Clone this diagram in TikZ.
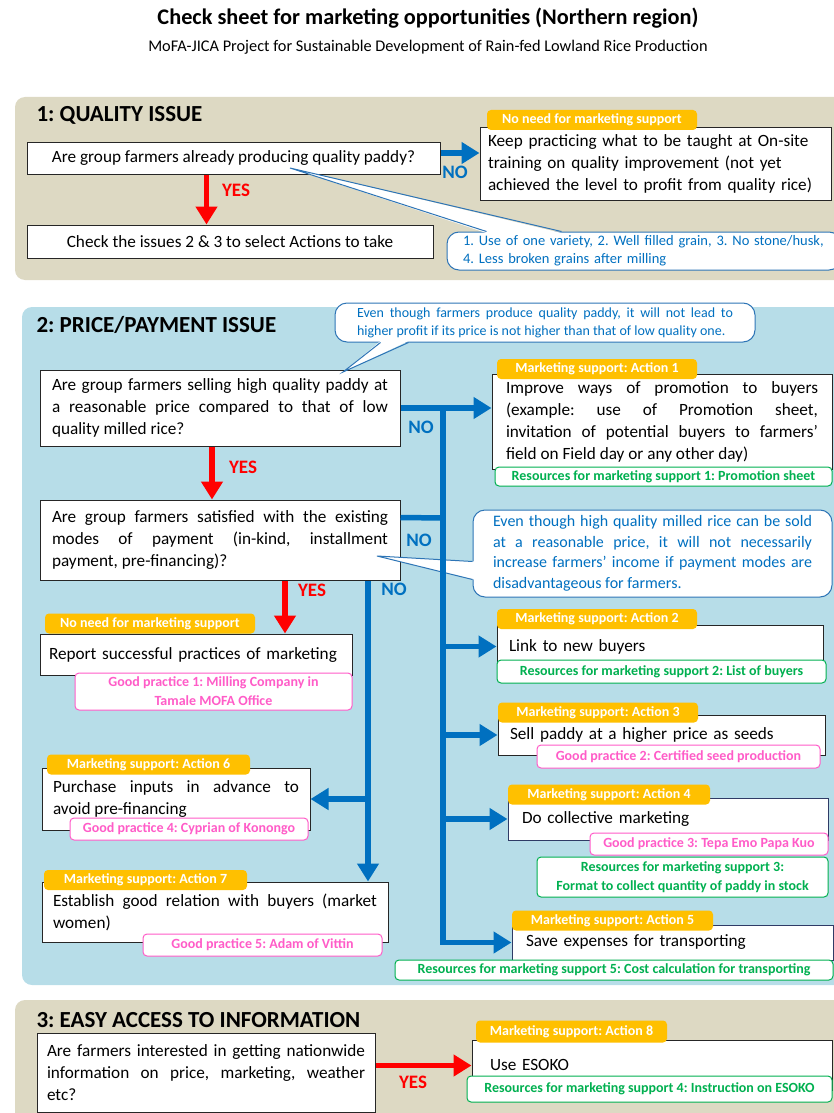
\documentclass[tikz,border=0pt]{standalone}
\usepackage{fontspec}
\setmainfont{Carlito}
\usepackage{xcolor}
\definecolor{tanbg}{HTML}{DDD9C3}
\definecolor{aquabg}{HTML}{B7DDE8}
\definecolor{flowblue}{HTML}{0070C0}
\definecolor{flowred}{HTML}{FF0000}
\definecolor{tagyellow}{HTML}{FFC000}
\definecolor{resgreen}{HTML}{00B050}
\definecolor{gppink}{HTML}{FF5CC8}
\definecolor{callblue}{HTML}{2E75B6}
\definecolor{boxnavy}{HTML}{2F3B66}
\usepackage{tikz}
\usetikzlibrary{arrows.meta}
\frenchspacing
\tikzset{
  qbox/.style={rectangle, draw=black!85, line width=1pt, fill=white,
               inner xsep=12pt, inner ysep=3pt, align=justify,
               font=\fontsize{17.2}{22}\selectfont},
  tagbox/.style={rectangle, rounded corners=4pt, fill=tagyellow, text=white,
               minimum height=20pt, inner sep=2pt,
               font=\fontsize{14}{16}\selectfont\bfseries},
  resbox/.style={rectangle, rounded corners=4pt, draw=resgreen, line width=1pt,
               fill=white, text=resgreen, inner sep=2pt, align=center,
               font=\fontsize{14}{19}\selectfont\bfseries},
  gpbox/.style={rectangle, rounded corners=4pt, draw=gppink, line width=1pt,
               fill=white, text=gppink, inner sep=2pt, align=center,
               font=\fontsize{14}{19}\selectfont\bfseries},
  callbox/.style={rectangle, rounded corners=12pt, draw=callblue, line width=1pt,
               fill=white, text=flowblue, inner xsep=20pt, inner ysep=2pt,
               align=justify},
  calltail/.style={draw=callblue, line width=1pt, line join=miter},
  barr/.style={-{Triangle[length=18pt,width=21pt]}, line width=5.5pt, draw=flowblue},
  bline/.style={line width=5.5pt, draw=flowblue},
  rarr/.style={-{Triangle[length=18pt,width=21pt]}, line width=5.5pt, draw=flowred},
  nolab/.style={font=\fontsize{19}{20}\selectfont\bfseries, text=flowblue},
  yeslab/.style={font=\fontsize{19}{20}\selectfont\bfseries, text=flowred},
  headlab/.style={anchor=west, font=\fontsize{23}{24}\selectfont\bfseries},
}

\begin{document}
\begin{tikzpicture}[x=1pt, y=-1pt]
  \useasboundingbox (0,0) rectangle (833,1113);

  % Backgrounds
  \fill[tanbg, rounded corners=10pt]  (15,97)   rectangle (845,280);
  \fill[aquabg, rounded corners=10pt] (22,307)  rectangle (845,985);
  \fill[tanbg, rounded corners=10pt]  (15,1000) rectangle (845,1125);

  % Title
  \node[font=\fontsize{22.3}{24}\selectfont\bfseries] (title) at (428,18)
    {Check sheet for marketing opportunities (Northern region)};
  \node[font=\fontsize{16.3}{18}\selectfont] (subtitle) at (428,47)
    {MoFA-JICA Project for Sustainable Development of Rain-fed Lowland Rice Production};

  % 1: Quality issue
  \node[headlab] (h1) at (33,115) {1: QUALITY ISSUE};
  \node[qbox, align=center, minimum width=413pt, minimum height=32pt] (q1) at (233.5,158)
    {Are group farmers already producing quality paddy?};
  \node[qbox, align=left, inner xsep=8pt, text width=335pt, minimum height=72pt] (keep) at (655.5,164)
    {Keep practicing what to be taught at On-site\\training on quality improvement (not yet\\achieved the level to profit from quality rice)};
  \node[qbox, align=center, minimum width=406pt, minimum height=33pt] (chk) at (230,241.5)
    {Check the issues 2 \& 3 to select Actions to take};
  \node[callbox, align=left, inner xsep=16pt, text width=362pt, minimum height=38pt,
        font=\fontsize{14.5}{18}\selectfont] (c1) at (644,251)
    {1. Use of one variety, 2. Well filled grain, 3. No stone/husk,\\4. Less broken grains after milling};
  \node[tagbox, minimum width=210pt] (tq1) at (592,120) {No need for marketing support};

  % 2: Price/payment issue
  \node[headlab] (h2) at (33,325) {2: PRICE/PAYMENT ISSUE};
  \node[callbox, inner xsep=22pt, text width=376pt, minimum height=39pt,
        font=\fontsize{14}{18}\selectfont] (c2) at (545,322.5)
    {Even though farmers produce quality paddy, it will not lead to\linebreak higher profit if its price is not higher than that of low quality one.};
  \node[qbox, text width=336pt, minimum height=76pt] (q2) at (220,408)
    {Are group farmers selling high quality paddy at\linebreak a reasonable price compared to that of low\linebreak quality milled rice?};
  \node[qbox, inner xsep=14pt, text width=312pt, minimum height=95pt] (act1) at (662,422)
    {Improve ways of promotion to buyers\linebreak (example: use of Promotion sheet,\linebreak invitation of potential buyers to farmers'\linebreak field on Field day or any other day)};
  \node[qbox, text width=336pt, minimum height=80pt] (q3) at (220,540)
    {Are group farmers satisfied with the existing\linebreak modes of payment (in-kind, installment\linebreak payment, pre-financing)?};
  \node[callbox, text width=319pt, minimum height=87pt,
        font=\fontsize{16}{20.5}\selectfont] (c3) at (652.5,553.5)
    {Even though high quality milled rice can be sold\linebreak at a reasonable price, it will not necessarily\linebreak increase farmers' income if payment modes are\linebreak disadvantageous for farmers.};

  % left column
  \node[qbox, align=left, inner xsep=9pt, text width=294pt, minimum height=41pt] (rep) at (196,654.5)
    {Report successful practices of marketing};
  \node[qbox, inner xsep=11pt, text width=246pt, minimum height=62pt] (act6) at (176,799)
    {Purchase inputs in advance to\linebreak avoid pre-financing};
  \node[qbox, inner xsep=11pt, text width=324pt, minimum height=60pt] (act7) at (215,912)
    {Establish good relation with buyers (market\linebreak women)};

  % right column
  \node[qbox, align=left, text width=302pt, minimum height=43pt] (act2) at (660,646.5)
    {Link to new buyers};
  \node[qbox, align=left, text width=303pt, minimum height=40pt] (act3) at (661.5,735)
    {Sell paddy at a higher price as seeds};
  \node[qbox, draw=boxnavy, align=left, inner xsep=14pt, text width=292pt, minimum height=42pt] (act4) at (668,819)
    {Do collective marketing};
  \node[qbox, draw=boxnavy, align=left, inner xsep=14pt, text width=293pt, minimum height=35pt] (act5) at (672.5,942.5)
    {Save expenses for transporting};

  % 3: Easy access to information
  \node[headlab] (h3) at (33,1020) {3: EASY ACCESS TO INFORMATION};
  \node[qbox, inner xsep=10pt, text width=318pt, minimum height=79pt] (q4) at (206,1072.5)
    {Are farmers interested in getting nationwide\linebreak information on price, marketing, weather\linebreak etc?};
  \node[qbox, align=left, inner xsep=18pt, text width=324pt, minimum height=50pt] (act8) at (652,1065)
    {Use ESOKO};

  % Callout tails
  \coordinate (p1) at (290,168);
  \coordinate (p2) at (343,372);
  \coordinate (p3) at (377,556);
  \fill[white] (p1) -- ([xshift=40pt,yshift=-1.5pt]c1.north west) -- ([xshift=115pt,yshift=-1.5pt]c1.north west) -- cycle;
  \draw[calltail] ([xshift=40pt]c1.north west) -- (p1) -- ([xshift=115pt]c1.north west);
  \fill[white] (p2) -- ([xshift=46pt,yshift=1.5pt]c2.south west) -- ([xshift=74pt,yshift=1.5pt]c2.south west) -- cycle;
  \draw[calltail] ([xshift=46pt]c2.south west) -- (p2) -- ([xshift=74pt]c2.south west);
  \fill[white] (p3) -- ([xshift=1.5pt,yshift=-52pt]c3.north west) -- ([xshift=1.5pt,yshift=-70pt]c3.north west) -- cycle;
  \draw[calltail] ([yshift=-52pt]c3.north west) -- (p3) -- ([yshift=-70pt]c3.north west);

  % NO branches
  \coordinate (j1) at (443,408);
  \coordinate (j2) at (443,518);
  \coordinate (k1) at (368,799);
  \draw[barr] ([yshift=5pt]q1.east) -- ([yshift=5pt]q1.east -| keep.west);
  \draw[barr] (q2.east) -- (act1.west |- q2.east);
  \draw[bline] ([yshift=-18pt]q3.north east) -- (j2);
  \draw[barr] (j1) -- (j1 |- act5) -- (act5);
  \draw[barr] (j1 |- act2) -- (act2);
  \draw[barr] (j1 |- act3) -- (act3);
  \draw[barr] (j1 |- act4) -- (act4);
  \draw[barr] (k1 |- q3.south) -- (k1 |- act7.north);
  \draw[barr] (k1) -- (act6);

  % YES arrows
  \draw[rarr] ([xshift=-27pt]q1.south) -- ([xshift=-27pt]q1.south |- chk.north);
  \draw[rarr] ([xshift=-8pt]q2.south) -- ([xshift=-8pt]q2.south |- q3.north);
  \draw[rarr] ([xshift=65pt]q3.south) -- ([xshift=65pt]q3.south |- rep.north);
  \draw[rarr] ([yshift=7pt]q4.east) -- ([yshift=7pt]q4.east -| act8.west);

  % Tags
  \node[tagbox, minimum width=200pt] (ta1) at (597,369)   {Marketing support: Action 1};
  \node[tagbox, minimum width=210pt] (tq3) at (150,623.5) {No need for marketing support};
  \node[tagbox, minimum width=203pt] (ta6) at (148.5,764.5) {Marketing support: Action 6};
  \node[tagbox, minimum width=203pt] (ta7) at (145.5,880) {Marketing support: Action 7};
  \node[tagbox, minimum width=200pt] (ta2) at (597,619)   {Marketing support: Action 2};
  \node[tagbox, minimum width=200pt] (ta3) at (598,712.5) {Marketing support: Action 3};
  \node[tagbox, minimum width=202pt] (ta4) at (609,794.5) {Marketing support: Action 4};
  \node[tagbox, minimum width=201pt] (ta5) at (612.5,920.5) {Marketing support: Action 5};
  \node[tagbox, minimum width=191pt, minimum height=22pt] (ta8) at (571.5,1031.5) {Marketing support: Action 8};

  % Resources
  \node[resbox, minimum width=337pt, minimum height=19pt] (r1) at (663.5,476.5) {Resources for marketing support 1: Promotion sheet};
  \node[resbox, minimum width=329pt, minimum height=23pt] (r2) at (661.5,671.5) {Resources for marketing support 2: List of buyers};
  \node[resbox, minimum width=291pt, minimum height=40pt] (r3) at (682.5,877) {Resources for marketing support 3:\\Format to collect quantity of paddy in stock};
  \node[resbox, minimum width=438pt, minimum height=20pt] (r5) at (614,970) {Resources for marketing support 5: Cost calculation for transporting};
  \node[resbox, minimum width=365pt, minimum height=26pt] (r4) at (649.5,1089) {Resources for marketing support 4: Instruction on ESOKO};

  % Good practices
  \node[gpbox, minimum width=277pt, minimum height=37pt] (g1) at (213.5,691.5) {Good practice 1: Milling Company in\\Tamale MOFA Office};
  \node[gpbox, minimum width=283pt, minimum height=23pt] (g2) at (678.5,756.5) {Good practice 2: Certified seed production};
  \node[gpbox, minimum width=238pt, minimum height=22pt] (g3) at (709,844) {Good practice 3: Tepa Emo Papa Kuo};
  \node[gpbox, minimum width=238pt, minimum height=22pt] (g4) at (189,829) {Good practice 4: Cyprian of Konongo};
  \node[gpbox, minimum width=239pt, minimum height=22pt] (g5) at (262.5,945) {Good practice 5: Adam of Vittin};

  % Labels
  \node[nolab]  (n1) at (455,172)  {NO};
  \node[yeslab] (y1) at (236,190)  {YES};
  \node[nolab]  (n2) at (421,427)  {NO};
  \node[yeslab] (y2) at (243,467)  {YES};
  \node[nolab]  (n3) at (419,540)  {NO};
  \node[nolab]  (n4) at (394,589)  {NO};
  \node[yeslab] (y3) at (312,590)  {YES};
  \node[yeslab] (y4) at (413,1082) {YES};
\end{tikzpicture}
\end{document}
